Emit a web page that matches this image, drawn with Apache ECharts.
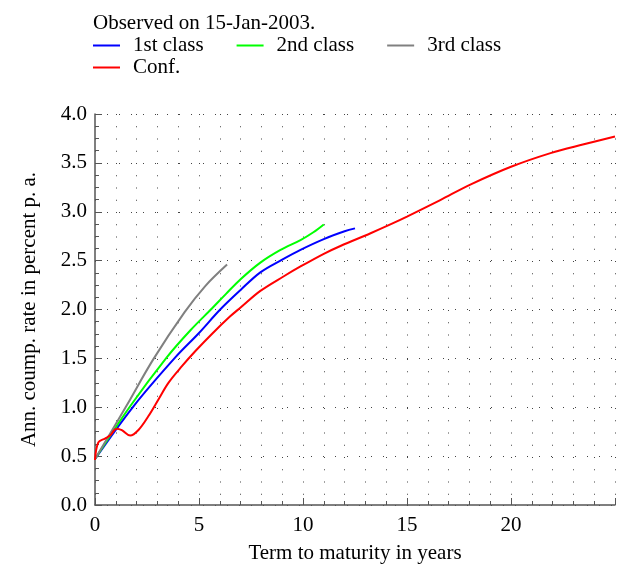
<!DOCTYPE html>
<html style="height: 100%">
<head>
    <meta charset="utf-8">
    <style type="text/css">
        .box{width: 618px;height:569px;}
    </style>
</head>
<body style="height: 100%; margin: 0">
<div class="box" id="container"></div>
<script src="https://cdn.jsdelivr.net/npm/echarts@6/dist/echarts.min.js"></script>
<script type="text/javascript">
    // term to maturity (years) / annual compounded rate (%)
    var t1 = [0, 1.85, 3.86, 5, 6.02, 7, 7.95, 9, 9.88, 11, 12, 12.5];
    var v1 = [0.47, 1.01, 1.51, 1.76, 2.00, 2.20, 2.38, 2.51, 2.61, 2.72, 2.80, 2.83];

    var t2 = [0, 1.69, 3.45, 4.6, 5.62, 6.3, 7, 7.95, 8.92, 9.88, 10.5, 11];
    var v2 = [0.47, 1.01, 1.51, 1.79, 2.01, 2.16, 2.31, 2.48, 2.61, 2.71, 2.79, 2.87];

    var t3 = [0, 1.5, 2.8, 4.3, 5.3, 6.35];
    var v3 = [0.47, 1.01, 1.49, 1.97, 2.24, 2.46];

    var tc = [0, 0.16, 0.48, 0.72, 1.04, 1.29, 1.69, 2.1, 2.57, 3.05, 3.53, 4.18, 4.85, 5.62, 6.5, 7.0, 7.95,
              9.08, 9.88, 11.0, 11.8, 13.25, 14.2, 15, 16.6, 18.07, 20.0, 21.9, 23.5, 25];
    var vc = [0.46, 0.64, 0.68, 0.71, 0.78, 0.765, 0.71, 0.77, 0.91, 1.08, 1.25, 1.42, 1.58, 1.75, 1.93, 2.02, 2.19,
              2.34, 2.44, 2.57, 2.65, 2.78, 2.87, 2.95, 3.12, 3.28, 3.46, 3.60, 3.69, 3.77];

    var names = ['1st class', '2nd class', '3rd class', 'Conf.'];
    var colors = ['#0000ff', '#00ff00', '#808080', '#ff0000'];

    function pairs(t, v) {
        var out = [];
        for (var i = 0; i < t.length; i++) out.push([t[i], v[i]]);
        return out;
    }

    var font = 'Liberation Serif';
    var dots = { color: '#444', width: 1, type: [1, 11.25] };

    var dom = document.getElementById("container");
    var chart = echarts.init(dom);
    var legendText = { fontFamily: font, fontSize: 21, color: '#000', padding: [0, 0, 0, 8] };
    var option = {
        backgroundColor: '#fff',
        animation: false,
        color: colors,
        title: {
            text: 'Observed on 15-Jan-2003.',
            left: 88,
            top: 8,
            textStyle: { fontFamily: font, fontSize: 21, fontWeight: 'normal', color: '#000' }
        },
        legend: [{
            data: names.slice(0, 3),
            left: 93, top: 35, padding: 0,
            icon: 'rect', itemWidth: 27, itemHeight: 2, itemGap: 33,
            textStyle: legendText
        }, {
            data: names.slice(3),
            left: 93, top: 57, padding: 0,
            icon: 'rect', itemWidth: 27, itemHeight: 2,
            textStyle: legendText
        }],
        grid: { left: 95, right: 3, top: 114, bottom: 63 },
        xAxis: {
            type: 'value',
            min: 0, max: 25, interval: 5,
            name: 'Term to maturity in years',
            nameLocation: 'middle', nameGap: 38,
            nameTextStyle: { fontFamily: font, fontSize: 21, color: '#000' },
            axisLine: { lineStyle: { color: '#555', width: 1.5 } },
            axisTick: { inside: true, length: 7, lineStyle: { color: '#555' } },
            minorTick: { show: true, splitNumber: 5, length: 4, lineStyle: { color: '#555' } },
            axisLabel: { fontFamily: font, fontSize: 21, color: '#000', margin: 10, showMaxLabel: false },
            splitLine: { show: true, lineStyle: dots },
            minorSplitLine: { show: true, lineStyle: dots }
        },
        yAxis: {
            type: 'value',
            min: 0, max: 4, interval: 0.5,
            name: 'Ann. coump. rate in percent p. a.',
            nameLocation: 'middle', nameGap: 55,
            nameTextStyle: { fontFamily: font, fontSize: 21, color: '#000' },
            axisLine: { show: true, lineStyle: { color: '#555', width: 1.5 } },
            axisTick: { show: true, inside: true, length: 7, lineStyle: { color: '#555' } },
            minorTick: { show: true, splitNumber: 4, length: 4, lineStyle: { color: '#555' } },
            axisLabel: {
                fontFamily: font, fontSize: 21, color: '#000', margin: 8,
                formatter: function (v) { return v.toFixed(1); }
            },
            splitLine: { show: true, lineStyle: { color: '#444', width: 1, type: [1, 11] } }
        },
        series: [
            { name: names[0], type: 'line', data: pairs(t1, v1) },
            { name: names[1], type: 'line', data: pairs(t2, v2) },
            { name: names[2], type: 'line', data: pairs(t3, v3) },
            { name: names[3], type: 'line', data: pairs(tc, vc) }
        ].map(function (s) {
            s.showSymbol = false;
            s.smooth = 0.35;
            s.lineStyle = { width: 2 };
            return s;
        })
    };
    chart.setOption(option);
</script>
</body>
</html>
